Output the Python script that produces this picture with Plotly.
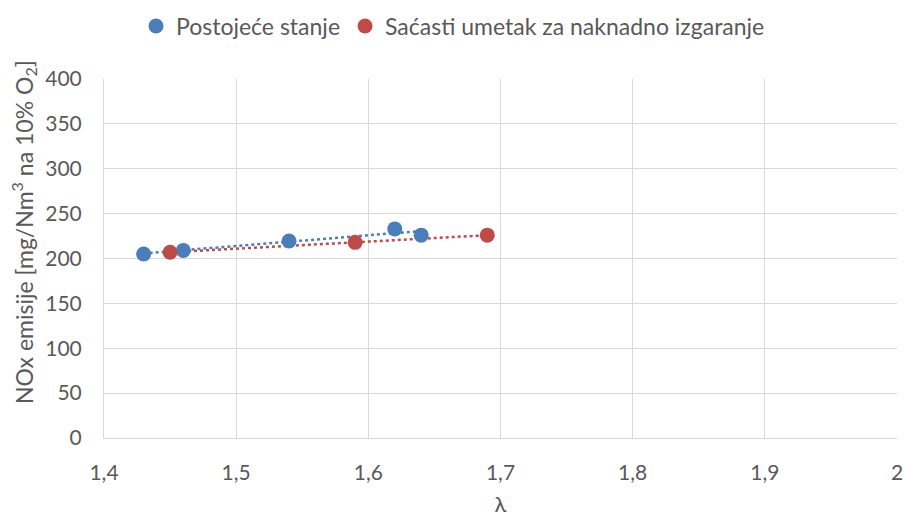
import numpy as np
import plotly.graph_objects as go

# Measured NOx emissions vs. excess air ratio
lam_existing = [1.43, 1.46, 1.54, 1.62, 1.64]
nox_existing = [205, 209, 219.5, 233, 226]

lam_insert = [1.45, 1.59, 1.69]
nox_insert = [207, 218, 226]

name_existing = "Postojeće stanje"
name_insert = "Saćasti umetak za naknadno izgaranje"

x_ticks = [1.4, 1.5, 1.6, 1.7, 1.8, 1.9, 2.0]
x_tick_labels = ["1,4", "1,5", "1,6", "1,7", "1,8", "1,9", "2"]

y_title = "NOx emisije [mg/Nm<sup>3</sup> na 10% O<sub>2</sub>]"

BLUE = "#4A7EBB"
RED = "#BE4B48"
FONT = "Lato, 'Open Sans', sans-serif"
TEXT = "#595959"

W, H = 906, 517
ML, MR, MT, MB = 104, 9, 79, 79


def trend(xs, ys):
    # least-squares linear trendline across the measured range
    k, b = np.polyfit(xs, ys, 1)
    xr = np.array([min(xs), max(xs)])
    return xr, k * xr + b


fig = go.Figure()

for xs, ys, col, nm in [(lam_existing, nox_existing, BLUE, name_existing),
                        (lam_insert, nox_insert, RED, name_insert)]:
    tx, ty = trend(xs, ys)
    fig.add_trace(go.Scatter(x=tx, y=ty, mode="lines", showlegend=False,
                             hoverinfo="skip",
                             line=dict(color=col, width=2.5, dash="dot")))

fig.add_trace(go.Scatter(x=lam_existing, y=nox_existing, mode="markers",
                         name=name_existing,
                         marker=dict(color=BLUE, size=15)))
fig.add_trace(go.Scatter(x=lam_insert, y=nox_insert, mode="markers",
                         name=name_insert,
                         marker=dict(color=RED, size=15)))

plot_w = W - ML - MR
plot_h = H - MT - MB

fig.update_layout(
    width=W, height=H,
    margin=dict(l=ML, r=MR, t=MT, b=MB),
    paper_bgcolor="white", plot_bgcolor="white",
    font=dict(family=FONT, color=TEXT, size=21),
    legend=dict(orientation="h", x=0.5, xanchor="center", xref="container",
                y=1 - 26 / H, yanchor="middle", yref="container",
                font=dict(size=23, color=TEXT), itemwidth=30,
                traceorder="normal"),
    xaxis=dict(range=[1.4, 2.0], tickvals=x_ticks, ticktext=x_tick_labels,
               tickfont=dict(size=21), automargin=False,
               showgrid=True, gridcolor="#D9D9D9", gridwidth=1,
               zeroline=False, showline=True, linecolor="#D9D9D9",
               ticks="", ticklabelstandoff=16,
               title=dict(text="λ", font=dict(size=22, color=TEXT),
                          standoff=13)),
    yaxis=dict(range=[0, 400], dtick=50, tickfont=dict(size=21),
               automargin=False,
               showgrid=True, gridcolor="#D9D9D9", gridwidth=1,
               zeroline=False, showline=True, linecolor="#D9D9D9",
               ticks="", ticklabelstandoff=17),
    annotations=[dict(text=y_title, textangle=-90, showarrow=False,
                      xref="paper", yref="paper",
                      x=(23 - ML) / plot_w, y=(H - MB - 232) / plot_h,
                      xanchor="center", yanchor="middle",
                      font=dict(size=23, color=TEXT))],
)

fig.write_html("out.html")
